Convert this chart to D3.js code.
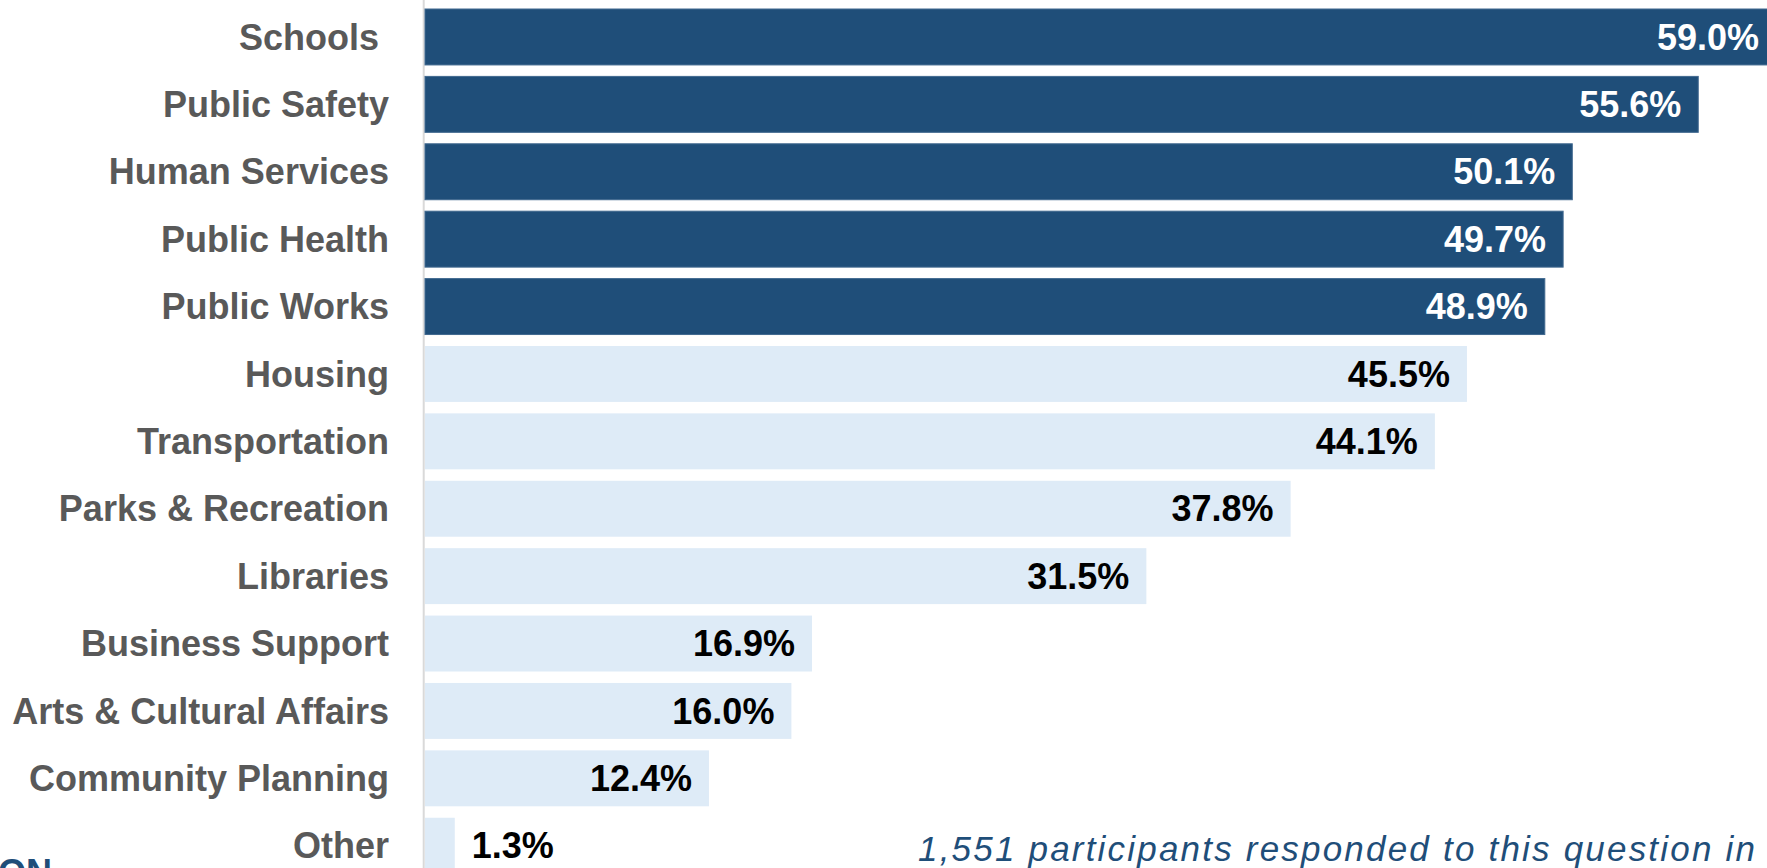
<!DOCTYPE html>
<html>
<head>
<meta charset="utf-8">
<script src="https://cdn.jsdelivr.net/npm/d3@7"></script>
<style>
  html, body { margin: 0; padding: 0; background: #ffffff; overflow: hidden; }
  svg { display: block; }
  .cat { font-family: "Liberation Sans", Arial, sans-serif; font-weight: bold; fill: #595959; white-space: pre; }
  .val { font-family: "Liberation Sans", Arial, sans-serif; font-weight: bold; }
  .note { font-family: "Liberation Sans", Arial, sans-serif; font-style: italic; fill: #1f4e79; }
</style>
</head>
<body>
<svg id="chart" width="1767" height="868"></svg>
<script>
//Categories from top to bottom, as in the survey chart
const categories = ["Schools ", "Public Safety", "Human Services", "Public Health", "Public Works",
  "Housing", "Transportation", "Parks & Recreation", "Libraries", "Business Support",
  "Arts & Cultural Affairs", "Community Planning", "Other"];
//Share of participants (%)
const shares = [59.0, 55.6, 50.1, 49.7, 48.9, 45.5, 44.1, 37.8, 31.5, 16.9, 16.0, 12.4, 1.3];
//The top five are highlighted in dark blue
const topCount = 5;
const footnote = "1,551 participants responded to this question in";

let svg = d3.select("#chart"),
    W = +svg.attr("width"),
    H = +svg.attr("height");

let darkBlue = "#1f4e79",
    lightBlue = "#deebf7";

//The chart is wider than the window: the first bar runs past the right edge
let x = d3.scaleLinear().domain([0, 60]).range([425, 425 + 60 * 22.9]);
let y = d3.scaleBand().domain(categories).range([9, 873.7]).paddingInner(0.17).paddingOuter(0);

let rows = categories.map((c, i) => ({name: c, value: shares[i], top: i < topCount}));

//Vertical axis line
svg.append("line")
   .attr("x1", x(0) - 1.3).attr("x2", x(0) - 1.3)
   .attr("y1", 0).attr("y2", H)
   .attr("stroke", "#d9d9d9")
   .attr("stroke-width", 2);

//Bars
svg.selectAll(".bar")
   .data(rows)
   .enter().append("rect")
   .attr("class", "bar")
   .attr("x", x(0))
   .attr("y", d => y(d.name))
   .attr("width", d => x(d.value) - x(0))
   .attr("height", y.bandwidth())
   .attr("fill", d => d.top ? darkBlue : lightBlue)
   .attr("stroke", d => d.top ? "#41698f" : "none")
   .attr("stroke-width", 1);

let fs = 36;

//Category labels, right aligned next to the axis
svg.selectAll(".cat")
   .data(rows)
   .enter().append("text")
   .attr("class", "cat")
   .attr("x", 389)
   .attr("y", d => y(d.name) + y.bandwidth() / 2 + fs * 0.35)
   .attr("text-anchor", "end")
   .attr("font-size", fs)
   .text(d => d.name);

//Value labels : inside the end of the bar, or just after it when it does not fit
let vals = svg.selectAll(".val")
   .data(rows)
   .enter().append("text")
   .attr("class", "val")
   .attr("y", d => y(d.name) + y.bandwidth() / 2 + fs * 0.35)
   .attr("font-size", fs)
   .attr("fill", d => d.top ? "#ffffff" : "#000000")
   .text(d => d.value.toFixed(1) + "%");

vals.each(function(d) {
  let w = this.getComputedTextLength();
  let barW = x(d.value) - x(0);
  if (barW > w + 30) {
    d3.select(this).attr("x", x(d.value) - 17).attr("text-anchor", "end");
  } else {
    d3.select(this).attr("x", x(d.value) + 17).attr("text-anchor", "start").attr("fill", "#000000");
  }
});

//Note at the bottom right (cut by the window edge)
svg.append("text")
   .attr("class", "note")
   .attr("x", 918)
   .attr("y", 861)
   .attr("font-size", 35)
   .attr("letter-spacing", 2.2)
   .text(footnote);

//Cut off logo text at bottom left
svg.append("text")
   .attr("x", -2)
   .attr("y", 885)
   .attr("font-family", "Liberation Sans, Arial, sans-serif")
   .attr("font-weight", "bold")
   .attr("font-size", 36)
   .attr("fill", darkBlue)
   .text("ON");
</script>
</body>
</html>
